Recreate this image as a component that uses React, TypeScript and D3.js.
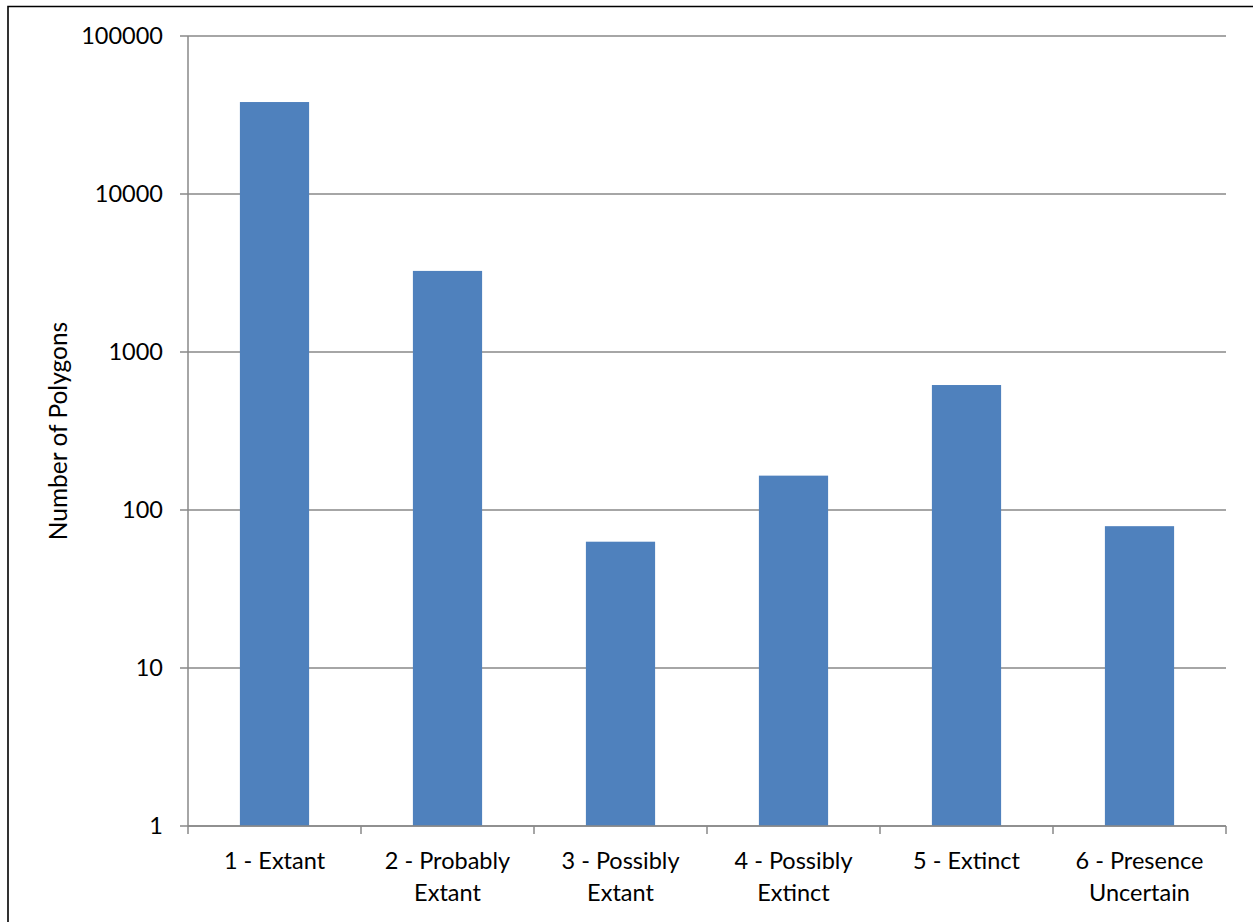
import React from "react";
import * as d3 from "d3";

const categories = [
  "1 - Extant",
  "2 - Probably Extant",
  "3 - Possibly Extant",
  "4 - Possibly Extinct",
  "5 - Extinct",
  "6 - Presence Uncertain",
];
const labelLines = [
  ["1 - Extant"],
  ["2 - Probably", "Extant"],
  ["3 - Possibly", "Extant"],
  ["4 - Possibly", "Extinct"],
  ["5 - Extinct"],
  ["6 - Presence", "Uncertain"],
];
const values = [38200, 3260, 63, 165, 618, 79];
const yTicks = [1, 10, 100, 1000, 10000, 100000];
const yTitle = "Number of Polygons";

const W = 1253;
const H = 922;
const left = 188;
const right = 1226;
const top = 36;
const bottom = 826;
const FONT = "Lato, 'Open Sans', sans-serif";
const AXIS = "#898989";

export default function App() {
  const x = d3.scaleBand<string>().domain(categories).range([left, right]).paddingInner(0.6).paddingOuter(0.3);
  const band = d3.scaleBand<string>().domain(categories).range([left, right]);
  const y = d3.scaleLog().domain([1, 100000]).range([bottom, top]);
  const tickX = categories.map((c) => band(c) as number).concat([right]);

  return (
    <div style={{ position: "absolute", left: 0, top: 0 }}>
      <svg width={W} height={H} style={{ display: "block", background: "#fff" }}>
        <rect x={0} y={0} width={W} height={H} fill="#fff" />
        <path d={`M8,${H + 5} L8,6.5 L${W + 5},6.5`} fill="none" stroke="#000" strokeWidth={1.6} />
        {yTicks.map((t) => (
          <g key={t}>
            <line x1={180} x2={right} y1={y(t)} y2={y(t)} stroke={AXIS} strokeWidth={1.5} />
            <text x={163} y={y(t)} dy="0.35em" textAnchor="end" fontFamily={FONT} fontSize={23.5} fill="#000">
              {t}
            </text>
          </g>
        ))}
        {categories.map((c, i) => (
          <rect
            key={c}
            x={x(c)}
            y={y(values[i])}
            width={x.bandwidth()}
            height={bottom - y(values[i])}
            fill="#4F81BD"
          />
        ))}
        <line x1={left} x2={left} y1={top} y2={bottom} stroke={AXIS} strokeWidth={1.5} />
        <line x1={left} x2={right} y1={bottom} y2={bottom} stroke={AXIS} strokeWidth={1.5} />
        {tickX.map((tx, i) => (
          <line key={i} x1={tx} x2={tx} y1={bottom} y2={bottom + 8} stroke={AXIS} strokeWidth={1.5} />
        ))}
        {categories.map((c, i) => (
          <text
            key={c}
            x={(band(c) as number) + band.bandwidth() / 2}
            textAnchor="middle"
            fontFamily={FONT}
            fontSize={23.5}
            fill="#000"
          >
            {labelLines[i].map((ln, j) => (
              <tspan key={j} x={(band(c) as number) + band.bandwidth() / 2} y={869 + j * 32}>
                {ln}
              </tspan>
            ))}
          </text>
        ))}
        <text
          transform={`translate(67,${(top + bottom) / 2}) rotate(-90)`}
          textAnchor="middle"
          fontFamily={FONT}
          fontSize={24.5}
          fill="#000"
        >
          {yTitle}
        </text>
      </svg>
    </div>
  );
}
